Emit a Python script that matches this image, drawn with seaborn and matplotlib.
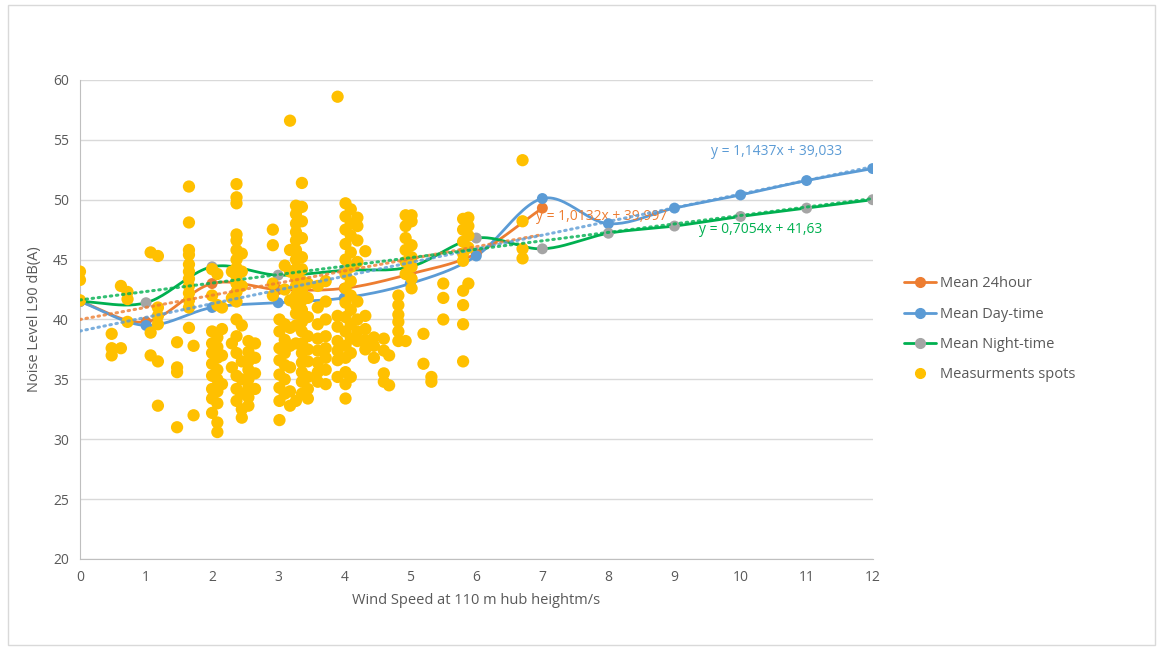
import numpy as np
import pandas as pd
import seaborn as sns
import matplotlib.pyplot as plt
from matplotlib.patches import Rectangle
from matplotlib.lines import Line2D

# Mean noise levels per wind speed bin
wind = list(range(13))
mean_24h = [41.5, 39.8, 43.0, 42.5, 42.6, 43.8, 45.5, 49.3]
mean_day = [41.5, 39.5, 41.0, 41.4, 41.8, 43.0, 45.3, 50.1, 48.0, 49.3, 50.4, 51.6, 52.6]
mean_night = [41.5, 41.4, 44.4, 43.7, 44.1, 44.4, 46.8, 45.9, 47.2, 47.8, 48.6, 49.3, 50.0]

# Linear trendlines (slope, intercept) as printed on the chart
trend_24h = (1.0132, 39.997)
trend_day = (1.1437, 39.033)
trend_night = (0.7054, 41.63)

# Individual measurement spots, grouped by wind speed column
spot_cols = [0.0, 0.48, 0.62, 0.72, 1.07, 1.18, 1.47, 1.65, 1.72, 2.0, 2.08, 2.15,
             2.3, 2.37, 2.45, 2.55, 2.65, 2.92, 3.02, 3.1, 3.18, 3.27, 3.36, 3.45,
             3.6, 3.72, 3.9, 4.02, 4.1, 4.2, 4.32, 4.45, 4.6, 4.68, 4.82, 4.93,
             5.02, 5.2, 5.32, 5.5, 5.8, 5.88, 6.7]
spot_vals = [
    [44.0, 43.3, 41.6],
    [38.8, 37.6, 37.0],
    [42.8, 37.6],
    [42.3, 41.7, 39.8],
    [45.6, 38.9, 37.0],
    [45.3, 41.0, 40.3, 39.6, 36.5, 32.8],
    [38.1, 36.0, 35.6, 31.0],
    [51.1, 48.1, 45.8, 45.4, 44.6, 44.0, 43.4, 42.8, 42.2, 41.6, 41.0, 39.3],
    [37.8, 32.0],
    [44.2, 42.0, 39.0, 38.0, 37.2, 36.3, 35.3, 34.2, 33.4, 32.2],
    [43.8, 41.2, 38.5, 37.7, 36.8, 35.8, 35.0, 34.0, 33.0, 31.4, 30.6],
    [41.0, 39.2, 37.0, 34.6],
    [44.0, 41.8, 38.0, 36.0],
    [51.3, 50.2, 49.7, 47.1, 46.6, 45.8, 45.0, 44.3, 43.6, 43.0, 42.3, 41.5,
     40.0, 38.6, 37.2, 35.3, 34.2, 33.2],
    [45.5, 44.0, 42.8, 39.5, 36.5, 35.0, 33.8, 32.5, 31.8],
    [38.2, 37.3, 36.5, 35.8, 35.0, 34.3, 33.5, 32.8],
    [38.0, 36.8, 35.5, 34.2],
    [47.5, 46.2, 43.0, 42.0],
    [40.0, 39.0, 37.6, 36.6, 35.4, 34.3, 33.2, 31.6],
    [44.5, 42.5, 39.6, 38.3, 37.2, 36.2, 35.0, 33.8],
    [56.6, 45.8, 44.0, 41.6, 39.3, 37.8, 36.0, 34.0, 32.8],
    [49.5, 48.8, 48.0, 47.3, 46.6, 45.8, 45.0, 44.2, 43.5, 42.8, 42.0, 41.2,
     40.5, 39.5, 38.0, 33.2],
    [51.4, 49.4, 48.2, 46.8, 45.2, 44.2, 43.2, 42.4, 41.6, 40.8, 39.8, 39.0,
     38.0, 37.2, 36.4, 35.6, 34.8, 33.8],
    [43.0, 41.8, 40.2, 38.6, 37.5, 36.5, 35.2, 34.2, 33.4],
    [42.8, 41.0, 39.6, 38.4, 37.4, 36.4, 35.6, 34.8],
    [43.2, 41.5, 40.0, 38.6, 37.6, 36.8, 35.8, 34.6],
    [58.6, 40.3, 39.4, 38.2, 37.4, 36.6, 35.2],
    [49.7, 48.6, 47.5, 46.3, 45.0, 43.8, 42.6, 41.4, 40.2, 39.0, 37.8, 36.8,
     35.6, 34.6, 33.4],
    [49.2, 48.0, 47.0, 45.6, 44.4, 43.2, 42.0, 40.8, 39.6, 38.4, 37.2, 35.2],
    [48.5, 47.8, 46.6, 44.8, 41.5, 40.0, 39.0, 38.2],
    [45.7, 40.3, 39.2, 38.3, 37.5],
    [38.5, 37.8, 36.8],
    [38.4, 37.4, 35.5, 34.8],
    [34.5, 37.0],
    [42.0, 41.2, 40.4, 39.8, 39.0, 38.2],
    [48.7, 47.8, 46.8, 45.8, 44.8, 43.8, 38.2],
    [48.7, 48.2, 46.2, 45.2, 44.4, 43.4, 42.6],
    [38.8, 36.3],
    [35.2, 34.8],
    [43.0, 41.8, 40.0],
    [48.4, 47.5, 46.5, 45.5, 44.9, 42.4, 41.2, 39.6, 36.5],
    [48.5, 47.8, 47.0, 46.0, 43.0],
    [53.3, 48.2, 45.9, 45.1],
]

spots = pd.DataFrame({
    'wind': [x for x, ys in zip(spot_cols, spot_vals) for _ in ys],
    'noise': [y for ys in spot_vals for y in ys],
})

ORANGE = '#ED7D31'
BLUE = '#5B9BD5'
GREEN = '#00B050'
GREY = '#A5A5A5'
GOLD = '#FFC000'
TXT = '#595959'


def smooth(xs, ys, n=24):
    # Catmull-Rom curve through the points, like Excel's smoothed line
    x = np.asarray(xs, float)
    y = np.asarray(ys, float)
    px = np.concatenate([[2 * x[0] - x[1]], x, [2 * x[-1] - x[-2]]])
    py = np.concatenate([[2 * y[0] - y[1]], y, [2 * y[-1] - y[-2]]])
    out_x, out_y = [], []
    t = np.linspace(0, 1, n, endpoint=False)
    for i in range(1, len(px) - 2):
        for arr, out in ((px, out_x), (py, out_y)):
            p0, p1, p2, p3 = arr[i - 1], arr[i], arr[i + 1], arr[i + 2]
            out.extend(0.5 * (2 * p1 + (-p0 + p2) * t
                              + (2 * p0 - 5 * p1 + 4 * p2 - p3) * t ** 2
                              + (-p0 + 3 * p1 - 3 * p2 + p3) * t ** 3))
    out_x.append(x[-1])
    out_y.append(y[-1])
    return out_x, out_y


sns.set_style('white')
plt.rcParams['font.family'] = ['Open Sans', 'DejaVu Sans']

fig = plt.figure(figsize=(11.64, 6.5), dpi=100)
ax = fig.add_axes([0.0687, 0.14, 0.681, 0.737])

# Outer chart border
fig.patches.append(Rectangle((0.007, 0.008), 0.985, 0.985, transform=fig.transFigure,
                             fill=False, edgecolor='#D9D9D9', lw=1))

series = [
    ('Mean 24hour', wind[:len(mean_24h)], mean_24h, ORANGE, ORANGE, trend_24h, 7),
    ('Mean Day-time', wind, mean_day, BLUE, BLUE, trend_day, 12),
    ('Mean Night-time', wind, mean_night, GREEN, GREY, trend_night, 12),
]

for name, xs, ys, lc, mc, (m, b), xend in series:
    sx, sy = smooth(xs, ys)
    sns.lineplot(x=sx, y=sy, sort=False, color=lc, lw=2, ax=ax, zorder=3)
    sns.scatterplot(x=xs, y=ys, color=mc, s=62, edgecolor='none', ax=ax, zorder=4)

sns.scatterplot(data=spots, x='wind', y='noise', color=GOLD, s=78,
                edgecolor='none', ax=ax, zorder=5)

for name, xs, ys, lc, mc, (m, b), xend in series:
    tx = np.array([0, xend])
    ax.plot(tx, m * tx + b, color=lc, lw=2.2, ls=(0, (0.5, 1.5)),
            dash_capstyle='round', alpha=0.8, zorder=6)

# Trendline equations
ax.text(10.55, 54.0, 'y = 1,1437x + 39,033', color=BLUE, fontsize=10, ha='center', va='center')
ax.text(7.9, 48.6, 'y = 1,0132x + 39,997', color=ORANGE, fontsize=10, ha='center', va='center')
ax.text(10.3, 47.5, 'y = 0,7054x + 41,63', color=GREEN, fontsize=10, ha='center', va='center')

ax.set_xlim(0, 12)
ax.set_ylim(20, 60)
ax.set_xticks(range(13))
ax.set_yticks(range(20, 61, 5))
ax.yaxis.grid(True, color='#D9D9D9', lw=1)
ax.set_axisbelow(True)
for side in ['top', 'right']:
    ax.spines[side].set_visible(False)
ax.spines['left'].set_color('#BFBFBF')
ax.spines['bottom'].set_color('#BFBFBF')
ax.tick_params(axis='both', colors=TXT, labelsize=10, length=0, pad=8)
ax.tick_params(axis='x', length=4, color='#BFBFBF', pad=4)

ax.set_xlabel('Wind Speed at 110 m hub heightm/s', color=TXT, fontsize=10.5, labelpad=6)
ax.set_ylabel('Noise Level L90 dB(A)', color=TXT, fontsize=10.5, labelpad=8)

handles = [
    Line2D([], [], color=ORANGE, lw=2, marker='o', ms=7, markerfacecolor=ORANGE, markeredgecolor=ORANGE),
    Line2D([], [], color=BLUE, lw=2, marker='o', ms=7, markerfacecolor=BLUE, markeredgecolor=BLUE),
    Line2D([], [], color=GREEN, lw=2, marker='o', ms=7, markerfacecolor=GREY, markeredgecolor=GREY),
    Line2D([], [], color='none', marker='o', ms=7, markerfacecolor=GOLD, markeredgecolor=GOLD),
]
labels = ['Mean 24hour', 'Mean Day-time', 'Mean Night-time', 'Measurments spots']
leg = fig.legend(handles, labels, loc='upper left', bbox_to_anchor=(0.765, 0.595),
                 frameon=False, fontsize=10.5, labelspacing=1.05, handlelength=2.2,
                 handletextpad=0.3, labelcolor=TXT)

fig.savefig('out.png', dpi=100)
plt.close(fig)
